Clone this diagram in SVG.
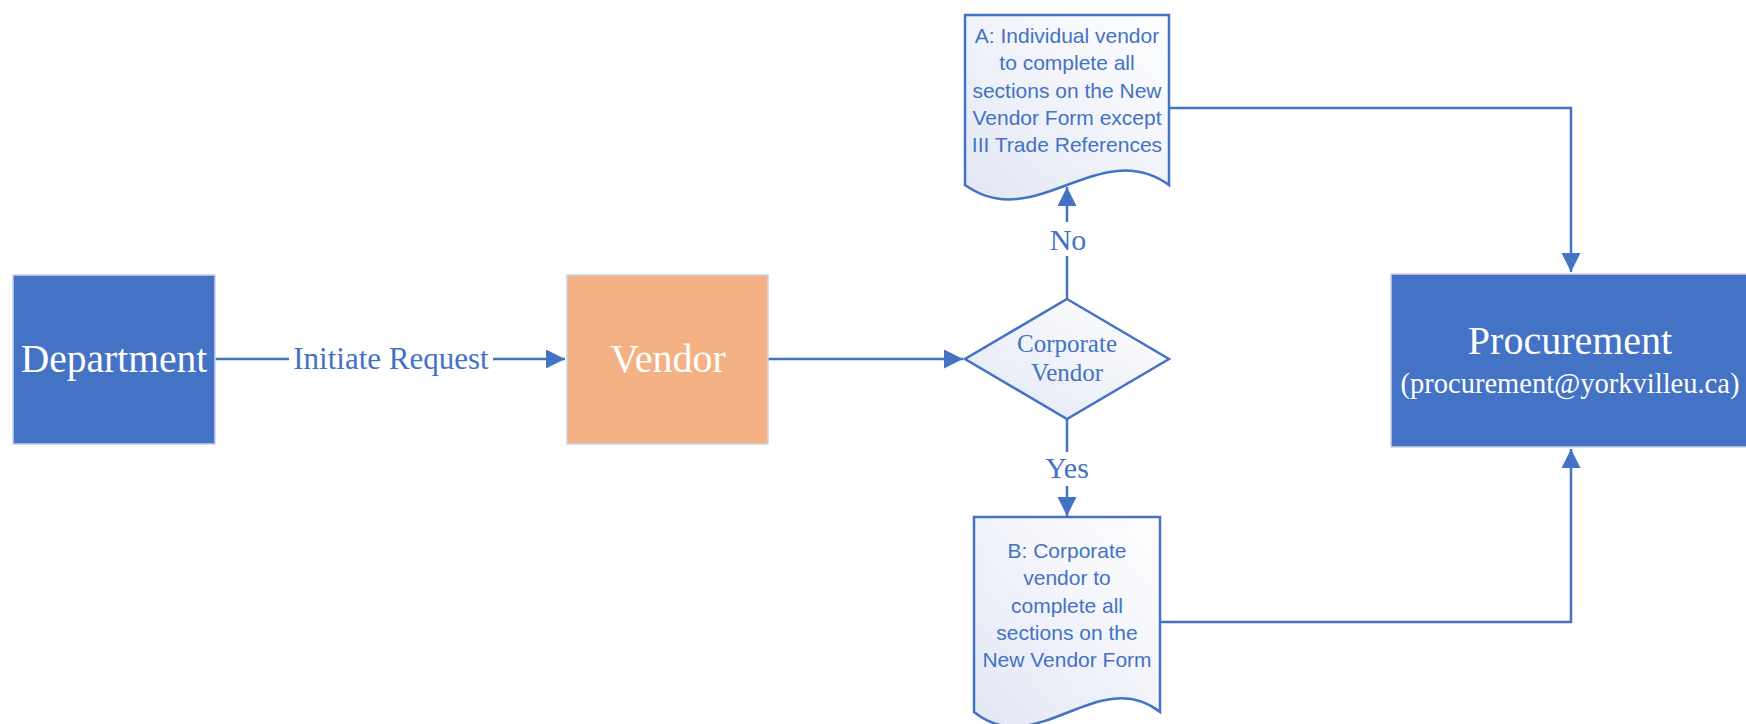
<svg xmlns="http://www.w3.org/2000/svg" width="1746" height="724" viewBox="0 0 1746 724">
<style>
.box{stroke:#c9d3e6;stroke-width:1.5}
.blue{fill:#4472C4}
.orange{fill:#F4B183}
.wt{font-family:"Liberation Serif","Times New Roman",serif;fill:#ffffff;text-anchor:middle}
.lbl{font-family:"Liberation Serif","Times New Roman",serif;fill:#4472C4;text-anchor:middle;font-size:30px}
.dm{font-family:"Liberation Serif","Times New Roman",serif;fill:#4472C4;text-anchor:middle;font-size:25px}
.doc{fill:url(#lg);stroke:#4472C4;stroke-width:2.5}
.dt{font-family:"Liberation Sans",Arial,sans-serif;fill:#4472C4;text-anchor:middle;font-size:21px}
.con{fill:none;stroke:#4472C4;stroke-width:2.5}
</style>
<defs>
<linearGradient id="lg" x1="1" y1="0" x2="0" y2="1">
<stop offset="0" stop-color="#ffffff"/>
<stop offset="1" stop-color="#e2e7f4"/>
</linearGradient>
<marker id="ah" markerWidth="20" markerHeight="20" refX="19" refY="9.5" orient="auto" markerUnits="userSpaceOnUse">
<path d="M0,0 L19,9.5 L0,19 Z" fill="#4472C4"/>
</marker>
</defs>
<g id="connectors">
<path class="con" d="M215,359 H565" marker-end="url(#ah)"/>
<rect x="289" y="340" width="204" height="38" fill="#ffffff"/>
<text class="lbl" x="391" y="369" style="font-size:31px">Initiate Request</text>
<path class="con" d="M768,359 H963" marker-end="url(#ah)"/>
<path class="con" d="M1067,299 V187" marker-end="url(#ah)"/>
<rect x="1046" y="222" width="44" height="34" fill="#ffffff"/>
<text class="lbl" x="1068" y="250">No</text>
<path class="con" d="M1067,419 V516" marker-end="url(#ah)"/>
<rect x="1040" y="452" width="54" height="34" fill="#ffffff"/>
<text class="lbl" x="1067" y="478">Yes</text>
<path class="con" d="M1169,108 H1571 V272" marker-end="url(#ah)"/>
<path class="con" d="M1160,622 H1571 V449" marker-end="url(#ah)"/>
</g>
<g id="department">
<rect class="box blue" x="13" y="275" width="202" height="169"/>
<text class="wt" x="114" y="372" font-size="39.5">Department</text>
</g>
<g id="vendor">
<rect class="box orange" x="567" y="275" width="201" height="169"/>
<text class="wt" x="668" y="372" font-size="40">Vendor</text>
</g>
<g id="corporate-vendor">
<path class="doc" d="M1067,299 L1169,359 L1067,419 L965,359 Z"/>
<text class="dm" x="1067" y="352">Corporate</text>
<text class="dm" x="1067" y="381">Vendor</text>
</g>
<g id="doc-a">
<path class="doc" d="M965,15 H1169 V185 C1099,135 1035,235 965,185 Z"/>
<text class="dt" x="1067" y="43">A: Individual vendor</text>
<text class="dt" x="1067" y="70">to complete all</text>
<text class="dt" x="1067" y="98">sections on the New</text>
<text class="dt" x="1067" y="125">Vendor Form except</text>
<text class="dt" x="1067" y="152">III Trade References</text>
</g>
<g id="doc-b">
<path class="doc" d="M974,517 H1160 V712 C1098,664 1036,762 974,712 Z"/>
<text class="dt" x="1067" y="558">B: Corporate</text>
<text class="dt" x="1067" y="585">vendor to</text>
<text class="dt" x="1067" y="613">complete all</text>
<text class="dt" x="1067" y="640">sections on the</text>
<text class="dt" x="1067" y="667">New Vendor Form</text>
</g>
<g id="procurement">
<rect class="box blue" x="1391" y="274" width="360" height="173"/>
<text class="wt" x="1570" y="354" font-size="40">Procurement</text>
<text class="wt" x="1570" y="393" font-size="28.5">(procurement@yorkvilleu.ca)</text>
</g>
</svg>
